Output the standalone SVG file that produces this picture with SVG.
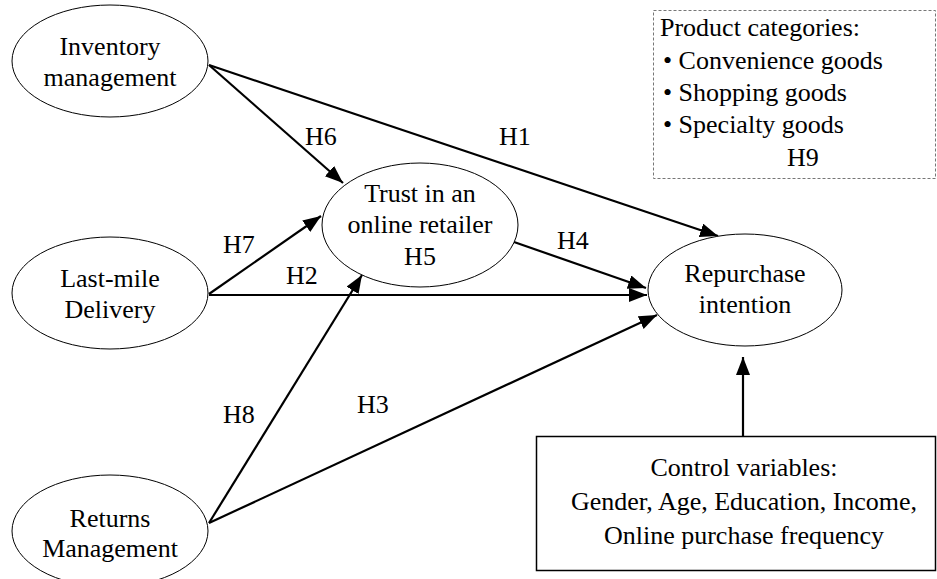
<svg xmlns="http://www.w3.org/2000/svg" width="937" height="579" viewBox="0 0 937 579" font-family="'Liberation Serif', 'Times New Roman', serif">
<style>
text{font-family:'Liberation Serif','Times New Roman',serif;font-size:26px;fill:#000}
.c{text-anchor:middle}
.node{fill:#fff;stroke:#000;stroke-width:1}
.arr{stroke:#000;stroke-width:2.2;fill:none;marker-end:url(#ah)}
</style>
<defs>
<marker id="ah" markerUnits="userSpaceOnUse" markerWidth="20" markerHeight="16" refX="18" refY="7" orient="auto"><path d="M0,0 L18,7 L0,14 z" fill="#000"/></marker>
</defs>
<rect width="937" height="579" fill="#fff"/>
<g id="connectors">
<line class="arr" x1="209" y1="65" x2="718" y2="236"/>
<line class="arr" x1="209" y1="65" x2="343" y2="183"/>
<line class="arr" x1="209" y1="294" x2="321" y2="216"/>
<line class="arr" x1="209" y1="295" x2="647" y2="295"/>
<line class="arr" x1="514" y1="242" x2="646" y2="288"/>
<line class="arr" x1="209" y1="523" x2="362" y2="275"/>
<line class="arr" x1="209" y1="523" x2="657" y2="315"/>
<line class="arr" x1="743" y1="436" x2="743" y2="357"/>
<text x="305" y="145">H6</text>
<text x="499" y="145">H1</text>
<text x="223" y="253">H7</text>
<text x="286" y="284">H2</text>
<text x="557" y="249">H4</text>
<text x="223" y="423">H8</text>
<text x="357" y="413">H3</text>
</g>
<g id="inventory">
<ellipse class="node" cx="110" cy="61" rx="98" ry="56"/>
<text class="c" x="110" y="55">Inventory</text>
<text class="c" x="110" y="86">management</text>
</g>
<g id="lastmile">
<ellipse class="node" cx="110" cy="293" rx="98" ry="56"/>
<text class="c" x="110" y="287">Last-mile</text>
<text class="c" x="110" y="318">Delivery</text>
</g>
<g id="returns">
<ellipse class="node" cx="110" cy="531" rx="98" ry="56"/>
<text class="c" x="110" y="527">Returns</text>
<text class="c" x="110" y="557">Management</text>
</g>
<g id="trust">
<ellipse class="node" cx="420" cy="225" rx="98" ry="62"/>
<text class="c" x="420" y="202">Trust in an</text>
<text class="c" x="420" y="233">online retailer</text>
<text class="c" x="420" y="265">H5</text>
</g>
<g id="repurchase">
<ellipse class="node" cx="745" cy="290" rx="97" ry="56"/>
<text class="c" x="745" y="282">Repurchase</text>
<text class="c" x="745" y="313">intention</text>
</g>
<g id="product">
<rect x="653.5" y="10.5" width="282" height="168" fill="#fff" stroke="#777" stroke-width="1" stroke-dasharray="3,2"/>
<text x="660" y="36">Product categories:</text>
<text x="663" y="69">• Convenience goods</text>
<text x="663" y="101">• Shopping goods</text>
<text x="663" y="133">• Specialty goods</text>
<text x="787" y="166">H9</text>
</g>
<g id="control">
<rect x="536.5" y="436.5" width="399" height="134" fill="#fff" stroke="#000" stroke-width="1.5"/>
<text class="c" x="744" y="476">Control variables:</text>
<text class="c" x="744" y="510">Gender, Age, Education, Income,</text>
<text class="c" x="744" y="544">Online purchase frequency</text>
</g>
</svg>
